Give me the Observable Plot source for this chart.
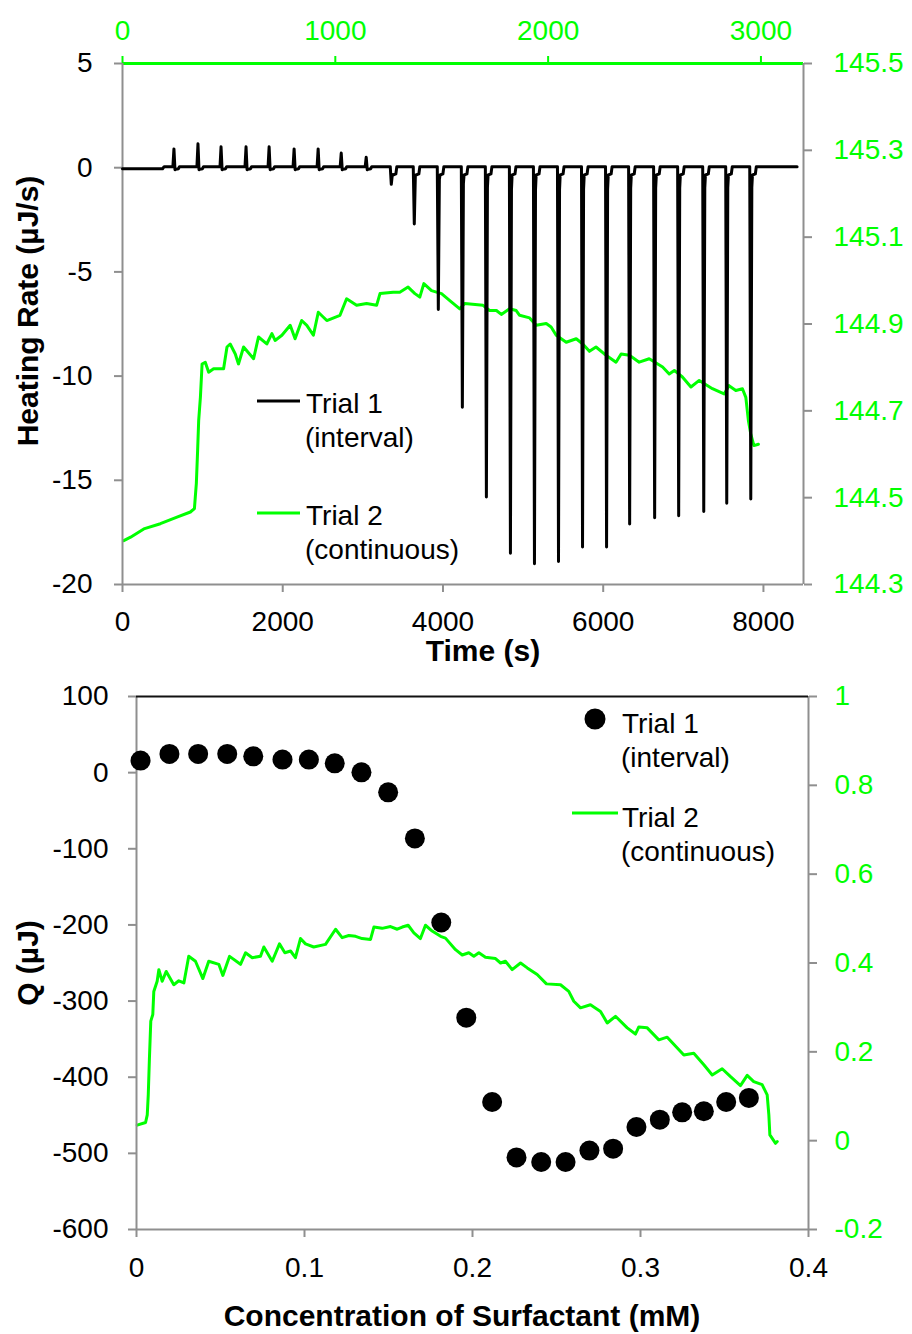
<!DOCTYPE html>
<html><head><meta charset="utf-8">
<script src="https://cdn.jsdelivr.net/npm/d3@7"></script>
<script src="https://cdn.jsdelivr.net/npm/@observablehq/plot@0.6"></script>
<style>
body{margin:0;background:#fff;}
#wrap{position:relative;width:912px;height:1334px;overflow:hidden;background:#fff;}
#wrap svg{position:absolute;left:0;}
</style></head><body><div id="wrap"></div>
<script>
// ---------- Top panel: Trial 1 (interval) injections ----------
const injTime = [637, 937, 1225, 1537, 1825, 2137, 2437, 2725, 3037, 3350, 3637, 3937, 4237, 4537, 4837, 5137, 5437, 5737, 6037, 6325, 6637, 6937, 7250, 7537, 7837];
const injPeak = [0.9, 1.15, 1.0, 1.0, 1.0, 0.9, 0.9, 0.7, 0.5, -0.8, -2.7, -6.8, -11.5, -15.8, -18.5, -19.0, -18.9, -18.2, -18.2, -17.1, -16.8, -16.7, -16.5, -16.1, -15.9];
const traceEnd = 8420;

// ---------- Top panel: Trial 2 (continuous), top axis time & right axis ----------
const trial2Time = [6,38,100,178,256,319,338,342,347,353,358,366,374,389,405,428,475,491,506,530,545,569,616,639,678,702,717,749,788,811,842,866,897,920,960,1022,1053,1100,1147,1194,1210,1272,1303,1342,1374,1397,1416,1452,1499,1538,1585,1608,1694,1725,1757,1780,1819,1850,1866,1913,1944,1991,2014,2038,2085,2132,2163,2194,2225,2264,2319,2343,2382,2428,2475,2538,2569,2593,2631,2671,2710,2772,2827,2850,2882,2913,2929,2941,2952,2967,2988];
const trial2Value = [144.401,144.409,144.428,144.440,144.455,144.467,144.475,144.501,144.533,144.609,144.678,144.731,144.808,144.812,144.789,144.797,144.797,144.847,144.854,144.831,144.808,144.847,144.820,144.870,144.854,144.878,144.862,144.874,144.897,144.866,144.908,144.897,144.874,144.927,144.908,144.920,144.958,144.943,144.947,144.943,144.970,144.973,144.973,144.985,144.970,144.962,144.993,144.977,144.970,144.954,144.935,144.947,144.943,144.931,144.931,144.922,144.935,144.931,144.920,144.914,144.897,144.901,144.893,144.874,144.858,144.866,144.854,144.837,144.847,144.831,144.812,144.831,144.828,144.812,144.820,144.801,144.785,144.793,144.778,144.755,144.770,144.751,144.739,144.758,144.747,144.751,144.731,144.678,144.647,144.620,144.623];

// ---------- Bottom panel ----------
const trial1Conc = [0.0024,0.0196,0.0367,0.0540,0.0695,0.0869,0.1026,0.1180,0.1339,0.1498,0.1657,0.1814,0.1963,0.2117,0.2262,0.2409,0.2554,0.2696,0.2837,0.2976,0.3115,0.3248,0.3377,0.3510,0.3645];
const trial1Q = [15.8,24.6,24.6,24.6,21.4,17.1,17.1,12.2,0.4,-25.9,-86.4,-196.8,-321.8,-432.5,-505.3,-511.4,-511.4,-496.4,-493.8,-465.4,-455.7,-446.1,-444.7,-432.5,-427.2];
const trial2Conc = [0.0004,0.0054,0.0064,0.0070,0.0077,0.0085,0.0097,0.0103,0.0123,0.0133,0.0153,0.0177,0.0222,0.0252,0.0282,0.0311,0.0351,0.0395,0.0430,0.0490,0.0514,0.0554,0.0619,0.0649,0.0689,0.0738,0.0758,0.0808,0.0851,0.0883,0.0917,0.0946,0.0976,0.1006,0.1055,0.1125,0.1185,0.1224,0.1264,0.1304,0.1343,0.1393,0.1413,0.1462,0.1512,0.1552,0.1582,0.1617,0.1651,0.1690,0.1720,0.1760,0.1810,0.1839,0.1899,0.1939,0.1978,0.2008,0.2038,0.2077,0.2137,0.2167,0.2196,0.2236,0.2286,0.2326,0.2385,0.2440,0.2524,0.2573,0.2603,0.2643,0.2702,0.2762,0.2802,0.2851,0.2921,0.2970,0.2990,0.3040,0.3109,0.3159,0.3258,0.3317,0.3377,0.3427,0.3486,0.3536,0.3595,0.3635,0.3674,0.3724,0.3754,0.3764,0.3770,0.3804,0.3814];
const trial2Signal = [0.035,0.041,0.058,0.103,0.186,0.269,0.284,0.336,0.359,0.385,0.359,0.381,0.351,0.360,0.355,0.415,0.404,0.365,0.404,0.397,0.372,0.415,0.397,0.423,0.412,0.415,0.436,0.404,0.443,0.423,0.427,0.412,0.455,0.443,0.436,0.442,0.476,0.457,0.462,0.460,0.455,0.453,0.481,0.478,0.482,0.476,0.481,0.485,0.468,0.455,0.485,0.472,0.460,0.456,0.430,0.418,0.423,0.415,0.423,0.413,0.410,0.400,0.404,0.385,0.400,0.389,0.374,0.353,0.351,0.336,0.314,0.299,0.306,0.291,0.265,0.280,0.254,0.240,0.256,0.254,0.227,0.233,0.193,0.197,0.171,0.148,0.162,0.144,0.124,0.147,0.133,0.126,0.103,0.058,0.013,-0.006,-0.002];

// ---------- Tick labels ----------
const timeTicks = [0, 2000, 4000, 6000, 8000];
const rateTicks = [-20, -15, -10, -5, 0, 5];
const topTimeTicks = [0, 1000, 2000, 3000];
const rightTopTicks = [144.3, 144.5, 144.7, 144.9, 145.1, 145.3, 145.5];
const concTicks = [0, 0.1, 0.2, 0.3, 0.4];
const qTicks = [-600, -500, -400, -300, -200, -100, 0, 100];
const rightBotTicks = [-0.2, 0, 0.2, 0.4, 0.6, 0.8, 1];

// ---------- styles ----------
const GRAY = "#8f8f8f", GREEN = "#00ff00", FONT = "'Liberation Sans', Arial, sans-serif";
const style = {fontFamily: FONT, fontSize: "28px", background: "transparent", overflow: "visible"};
const fmt = d => String(d);

// build Trial 1 trace from read injection times/peaks
const trace = [{t: 0, q: -0.05}, {t: 500, q: -0.05}, {t: 520, q: 0.05}];
injTime.forEach((t, i) => {
  const p = injPeak[i], up = p > 0;
  trace.push({t: t - 8, q: 0.05}, {t: t + 5, q: p},
             {t: t + 18, q: up ? -0.1 : p * 0.04 - 0.3},
             {t: t + 26, q: up ? -0.08 : -0.35},
             {t: t + 62, q: up ? -0.05 : -0.3}, {t: t + 74, q: 0.05});
});
trace.push({t: traceEnd, q: 0.05});
const green1 = trial2Time.map((t, i) => ({t, v: trial2Value[i]}));
const dots = trial1Conc.map((c, i) => ({c, q: trial1Q[i]}));
const green2 = trial2Conc.map((c, i) => ({c, v: trial2Signal[i]}));

const wrap = document.getElementById("wrap");
const topDims = {width: 912, height: 670, marginTop: 63, marginBottom: 86, marginLeft: 122, marginRight: 109};
const botDims = {width: 912, height: 664, marginTop: 26, marginBottom: 105, marginLeft: 136, marginRight: 104};

function place(svg, top) { svg.style.top = top + "px"; wrap.appendChild(svg); }

// top panel, green layer (top and right axes)
place(Plot.plot({
  ...topDims, style,
  x: {domain: [0, 3200]}, y: {domain: [144.3, 145.5]},
  marks: [
    Plot.axisX({anchor: "top", ticks: topTimeTicks, tickFormat: fmt, tickSize: 8, tickPadding: 16, stroke: GREEN, strokeWidth: 2, fill: GREEN, label: null}),
    Plot.axisY({anchor: "right", ticks: rightTopTicks, tickFormat: d => d.toFixed(1), tickSize: 8, tickPadding: 22, stroke: GRAY, strokeWidth: 2, fill: GREEN, label: null}),
    Plot.line(green1, {x: "t", y: "v", stroke: GREEN, strokeWidth: 3}),
    Plot.ruleY([145.5], {stroke: GREEN, strokeWidth: 3})
  ]
}), 0);

// top panel, black layer
place(Plot.plot({
  ...topDims, style,
  x: {domain: [0, 8500]}, y: {domain: [-20, 5]},
  marks: [
    Plot.ruleX([0], {stroke: GRAY, strokeWidth: 2}),
    Plot.ruleX([8500], {stroke: GRAY, strokeWidth: 2}),
    Plot.ruleY([-20], {stroke: GRAY, strokeWidth: 2}),
    Plot.axisX({ticks: timeTicks, tickFormat: fmt, tickSize: 8, tickPadding: 19, stroke: GRAY, strokeWidth: 2, fill: "#000", label: null}),
    Plot.axisY({ticks: rateTicks, tickFormat: fmt, tickSize: 8, tickPadding: 22, stroke: GRAY, strokeWidth: 2, fill: "#000", label: null}),
    Plot.line(trace, {x: "t", y: "q", stroke: "#000", strokeWidth: 3})
  ]
}), 0);

// bottom panel, green layer (right axis only)
place(Plot.plot({
  ...botDims, style,
  x: {domain: [0, 0.4], axis: null}, y: {domain: [-0.2, 1]},
  marks: [
    Plot.axisY({anchor: "right", ticks: rightBotTicks, tickFormat: fmt, tickSize: 8, tickPadding: 18, stroke: GRAY, strokeWidth: 2, fill: GREEN, label: null}),
    Plot.line(green2, {x: "c", y: "v", stroke: GREEN, strokeWidth: 3})
  ]
}), 670);

// bottom panel, black layer
place(Plot.plot({
  ...botDims, style,
  x: {domain: [0, 0.4]}, y: {domain: [-600, 100]},
  marks: [
    Plot.ruleX([0], {stroke: GRAY, strokeWidth: 2}),
    Plot.ruleX([0.4], {stroke: GRAY, strokeWidth: 2}),
    Plot.ruleY([-600], {stroke: GRAY, strokeWidth: 2}),
    Plot.ruleY([100], {stroke: "#111", strokeWidth: 2}),
    Plot.axisX({ticks: concTicks, tickFormat: fmt, tickSize: 8, tickPadding: 20, stroke: GRAY, strokeWidth: 2, fill: "#000", label: null}),
    Plot.axisY({ticks: qTicks, tickFormat: fmt, tickSize: 8, tickPadding: 20, stroke: GRAY, strokeWidth: 2, fill: "#000", label: null}),
    Plot.dot(dots, {x: "c", y: "q", r: 10, fill: "#000", stroke: "none"})
  ]
}), 670);

// titles & legends (text layer)
const t = d3.create("svg").attr("width", 912).attr("height", 1334)
  .style("top", "0px").style("pointer-events", "none")
  .attr("font-family", FONT);
function txt(x, y, s, o = {}) {
  const e = t.append("text").attr("x", x).attr("y", y).text(s)
    .attr("font-size", o.size || 28).attr("fill", o.fill || "#000");
  if (o.bold) e.attr("font-weight", "bold");
  if (o.anchor) e.attr("text-anchor", o.anchor);
  if (o.rot) e.attr("transform", `rotate(-90,${x},${y})`);
  return e;
}
txt(38, 311, "Heating Rate (µJ/s)", {bold: true, size: 30, anchor: "middle", rot: true});
txt(483, 661, "Time (s)", {bold: true, size: 30, anchor: "middle"});
txt(38, 963, "Q (µJ)", {bold: true, size: 30, anchor: "middle", rot: true});
txt(462, 1326, "Concentration of Surfactant (mM)", {bold: true, size: 30, anchor: "middle"});
// top legend
t.append("line").attr("x1", 257).attr("x2", 300).attr("y1", 401).attr("y2", 401).attr("stroke", "#000").attr("stroke-width", 3);
txt(306, 413, "Trial 1"); txt(305, 447, "(interval)");
t.append("line").attr("x1", 257).attr("x2", 300).attr("y1", 513).attr("y2", 513).attr("stroke", GREEN).attr("stroke-width", 3);
txt(306, 525, "Trial 2"); txt(305, 559, "(continuous)");
// bottom legend
t.append("circle").attr("cx", 595).attr("cy", 719).attr("r", 10.5).attr("fill", "#000");
txt(622, 733, "Trial 1"); txt(621, 767, "(interval)");
t.append("line").attr("x1", 572).attr("x2", 618).attr("y1", 813).attr("y2", 813).attr("stroke", GREEN).attr("stroke-width", 3);
txt(622, 827, "Trial 2"); txt(621, 861, "(continuous)");
wrap.appendChild(t.node());
</script></body></html>
